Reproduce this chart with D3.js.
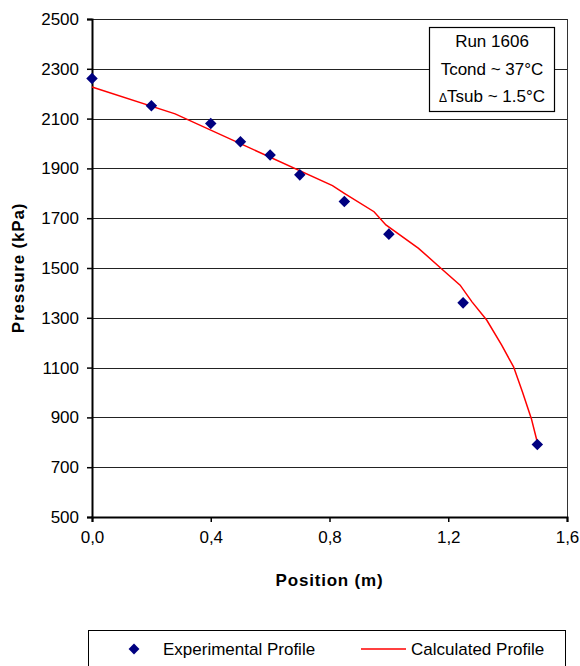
<!DOCTYPE html>
<html>
<head>
<meta charset="utf-8">
<script src="https://cdn.jsdelivr.net/npm/d3@7"></script>
<style>
    body { margin: 0; background: white; }
    svg { display: block; font-family: "Liberation Sans", Arial, sans-serif; }
</style>
</head>
<body>
<div id="chart"></div>
<script>
// experimental measurements
var expPosition = [0, 0.2, 0.4, 0.5, 0.6, 0.7, 0.85, 1.0, 1.25, 1.5];
var expPressure = [2261, 2152, 2080, 2007, 1954, 1874, 1767, 1636, 1360, 791];

// calculated profile (model output)
var calcPosition = [0, 0.28, 0.81, 0.85, 0.95, 0.99, 1.10, 1.18, 1.24, 1.28, 1.33, 1.38, 1.42, 1.45, 1.48, 1.5];
var calcPressure = [2227, 2119, 1831, 1800, 1726, 1673, 1579, 1494, 1431, 1364, 1290, 1190, 1103, 1002, 895, 800];

var xTicks = [0, 0.4, 0.8, 1.2, 1.6];
var yTicks = [500, 700, 900, 1100, 1300, 1500, 1700, 1900, 2100, 2300, 2500];
var boxLines = ["Run 1606", "Tcond ~ 37°C", "Tsub ~ 1.5°C"];

var W = 580, H = 666;
var plot = {left: 92, right: 567, top: 19, bottom: 517};

var svg = d3.select("#chart")
    .append("svg")
    .attr("width", W)
    .attr("height", H);

var x = d3.scaleLinear().domain([0, 1.6]).range([plot.left, plot.right]);
var y = d3.scaleLinear().domain([500, 2500]).range([plot.bottom, plot.top]);

var fmtX = function (d) { return d3.format(".1f")(d).replace(".", ","); };

// gridlines
svg.append("g")
    .selectAll("line")
    .data(yTicks)
    .enter()
    .append("line")
    .attr("x1", plot.left)
    .attr("x2", plot.right)
    .attr("y1", function (d) { return Math.round(y(d)) + 0.5; })
    .attr("y2", function (d) { return Math.round(y(d)) + 0.5; })
    .style("stroke", "#222")
    .style("stroke-width", 1);

// right border
svg.append("line")
    .attr("x1", plot.right + 0.5).attr("x2", plot.right + 0.5)
    .attr("y1", plot.top).attr("y2", plot.bottom)
    .style("stroke", "#333");

// Y axis
svg.append("g")
    .attr("transform", "translate(" + plot.left + ",0)")
    .call(d3.axisLeft(y).tickValues(yTicks).tickSize(5).tickPadding(8).tickFormat(d3.format("d")))
    .call(function (g) { g.select(".domain").style("stroke-width", 2); })
    .call(function (g) { g.selectAll(".tick line").style("stroke-width", 1.5); })
    .style("font-size", "17px")
    .style("font-family", "Liberation Sans, Arial, sans-serif")
    .style("color", "black");

// X axis
svg.append("g")
    .attr("transform", "translate(0," + plot.bottom + ")")
    .call(d3.axisBottom(x).tickValues(xTicks).tickSize(5).tickPadding(9).tickFormat(fmtX))
    .call(function (g) { g.select(".domain").style("stroke-width", 2); })
    .call(function (g) { g.selectAll(".tick line").style("stroke-width", 1.5); })
    .style("font-size", "17px")
    .style("font-family", "Liberation Sans, Arial, sans-serif")
    .style("color", "black");

// axis titles
svg.append("text")
    .attr("x", (plot.left + plot.right) / 2)
    .attr("y", 586)
    .attr("text-anchor", "middle")
    .style("font-size", "17px")
    .style("font-weight", "bold")
    .style("letter-spacing", "0.8px")
    .text("Position (m)");

svg.append("text")
    .attr("transform", "translate(24," + ((plot.top + plot.bottom) / 2) + ") rotate(-90)")
    .attr("text-anchor", "middle")
    .style("font-size", "17px")
    .style("font-weight", "bold")
    .style("letter-spacing", "0.8px")
    .text("Pressure (kPa)");

// calculated line
var calcData = calcPosition.map(function (p, i) { return {x: p, y: calcPressure[i]}; });
var line = d3.line()
    .x(function (d) { return x(d.x); })
    .y(function (d) { return y(d.y); });

svg.append("path")
    .datum(calcData)
    .attr("d", line)
    .style("fill", "none")
    .style("stroke", "#ff0000")
    .style("stroke-width", 1.5);

// experimental points
var diamond = d3.symbol().type(d3.symbolDiamond2).size(85);
svg.append("g")
    .selectAll("path")
    .data(expPosition)
    .enter()
    .append("path")
    .attr("d", diamond)
    .attr("transform", function (d, i) {
        return "translate(" + x(d) + "," + y(expPressure[i]) + ")";
    })
    .style("fill", "#000080");

// annotation box
var box = svg.append("g");
box.append("rect")
    .attr("x", 429.5).attr("y", 27.5)
    .attr("width", 125).attr("height", 84)
    .style("fill", "white")
    .style("stroke", "black")
    .style("stroke-width", 1.2);

var boxY = [47, 75, 102];
box.append("text").attr("x", 492).attr("y", boxY[0]).attr("text-anchor", "middle")
    .style("font-size", "17px").text(boxLines[0]);
box.append("text").attr("x", 492).attr("y", boxY[1]).attr("text-anchor", "middle")
    .style("font-size", "17px").text(boxLines[1]);
var t3 = box.append("text").attr("x", 492).attr("y", boxY[2]).attr("text-anchor", "middle")
    .style("font-size", "17px");
t3.append("tspan").style("font-size", "12px").text("Δ");
t3.append("tspan").text(boxLines[2]);

// legend
var legend = svg.append("g");
legend.append("rect")
    .attr("x", 88.5).attr("y", 630.5)
    .attr("width", 477).attr("height", 60)
    .style("fill", "white")
    .style("stroke", "black");

legend.append("path")
    .attr("d", d3.symbol().type(d3.symbolDiamond2).size(75))
    .attr("transform", "translate(134,649)")
    .style("fill", "#000080");
legend.append("text")
    .attr("x", 163).attr("y", 655)
    .style("font-size", "17px")
    .text("Experimental Profile");

legend.append("line")
    .attr("x1", 361).attr("x2", 406)
    .attr("y1", 649).attr("y2", 649)
    .style("stroke", "#ff0000")
    .style("stroke-width", 1.5);
legend.append("text")
    .attr("x", 411).attr("y", 655)
    .style("font-size", "17px")
    .text("Calculated Profile");
</script>
</body>
</html>
